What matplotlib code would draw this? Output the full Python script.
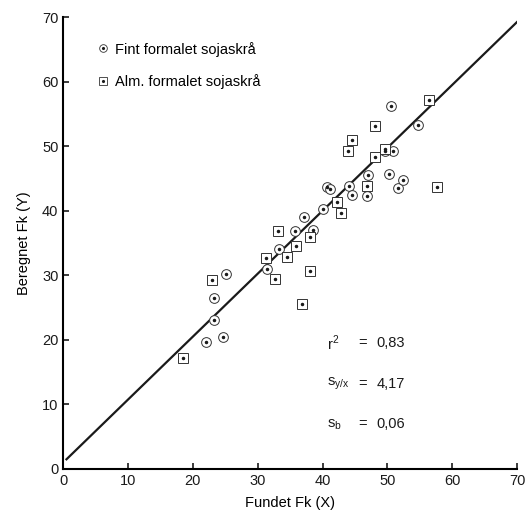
import matplotlib.pyplot as plt
from matplotlib.lines import Line2D

plt.rcParams['font.family'] = ['Liberation Sans', 'DejaVu Sans']
plt.rcParams['mathtext.fontset'] = 'custom'
plt.rcParams['mathtext.rm'] = 'Liberation Sans'

# Fint formalet sojaskrå (cirkler)
fint_x = [22.0, 24.7, 23.3, 23.3, 25.1, 31.4, 33.3, 35.7, 37.2, 38.5, 40.0, 40.7, 41.2,
          44.1, 44.5, 46.8, 47.0, 49.6, 50.9, 50.3, 50.5, 51.7, 52.4, 54.7]
fint_y = [19.7, 20.4, 23.1, 26.5, 30.2, 31.0, 34.1, 36.9, 39.1, 37.0, 40.2, 43.7, 43.3,
          43.8, 42.5, 42.3, 45.6, 49.2, 49.2, 45.7, 56.2, 43.5, 44.7, 53.3]

# Alm. formalet sojaskrå (firkanter)
alm_x = [18.5, 22.9, 31.3, 32.7, 33.1, 34.5, 35.9, 36.9, 38.1, 38.1, 42.2, 42.9,
         43.9, 44.5, 46.8, 48.1, 48.1, 49.7, 56.4, 57.6]
alm_y = [17.2, 29.3, 32.7, 29.5, 36.8, 32.9, 34.6, 25.6, 36.0, 30.7, 41.4, 39.6,
         49.3, 50.9, 43.8, 48.4, 53.1, 49.5, 57.2, 43.7]

# regressionslinje
line_x = [0.5, 70.0]
intercept = 1.0
slope = 0.975

labels = ['Fint formalet sojaskrå', 'Alm. formalet sojaskrå']
stats = [(r'r$^2$', '0,83'), (r's$_{\mathrm{y/x}}$', '4,17'), (r's$_{\mathrm{b}}$', '0,06')]

ink = '#1a1a1a'
edge = '#333333'

fig = plt.figure(figsize=(5.27, 5.21), dpi=100)
ax = fig.add_axes([0.12, 0.1, 0.861, 0.867])

# linje
ax.plot(line_x, [intercept + slope * x for x in line_x], color=ink, linewidth=1.6, zorder=2)

# punkter
ax.plot(fint_x, fint_y, 'o', markersize=7, markerfacecolor='white',
        markeredgecolor=edge, markeredgewidth=0.7, linestyle='none', zorder=3)
ax.plot(alm_x, alm_y, 's', markersize=7, markerfacecolor='white',
        markeredgecolor=edge, markeredgewidth=0.7, linestyle='none', zorder=3)
ax.plot(fint_x + alm_x, fint_y + alm_y, '.', markersize=3, color=ink, zorder=4)

# Leyenda
h1 = (Line2D([], [], marker='o', markersize=5.5, markerfacecolor='white', markeredgecolor=edge,
             markeredgewidth=0.6, linestyle='none'),
      Line2D([], [], marker='.', markersize=2.5, color=ink, linestyle='none'))
h2 = (Line2D([], [], marker='s', markersize=5.5, markerfacecolor='white', markeredgecolor=edge,
             markeredgewidth=0.6, linestyle='none'),
      Line2D([], [], marker='.', markersize=2.5, color=ink, linestyle='none'))
ax.legend([h1, h2], labels, loc='upper left', bbox_to_anchor=(0.05, 0.975), frameon=False,
          fontsize=10.5, handlelength=0.6, handletextpad=0.5, labelspacing=1.2)

# Estadisticas
for i, (name, val) in enumerate(stats):
    yy = 19.5 - i * 6.3
    ax.text(40.7, yy, name, fontsize=10.5, va='center', ha='left', color=ink)
    ax.text(45.5, yy, '=', fontsize=10.5, va='center', ha='left', color=ink)
    ax.text(48.3, yy, val, fontsize=10.5, va='center', ha='left', color=ink)

ax.set_xlim(0, 70)
ax.set_ylim(0, 70)
ax.set_xticks(range(0, 71, 10))
ax.set_yticks(range(0, 71, 10))
ax.spines['top'].set_visible(False)
ax.spines['right'].set_visible(False)
ax.spines['left'].set_linewidth(1.5)
ax.spines['bottom'].set_linewidth(1.5)
ax.tick_params(direction='in', length=4, width=1.2, labelsize=10.5, colors=ink)
ax.set_xlabel('Fundet Fk (X)', fontsize=10.5, labelpad=6)
ax.set_ylabel('Beregnet Fk (Y)', fontsize=10.5, labelpad=8)

fig.patch.set_facecolor('white')
plt.savefig('out.png', dpi=100)
